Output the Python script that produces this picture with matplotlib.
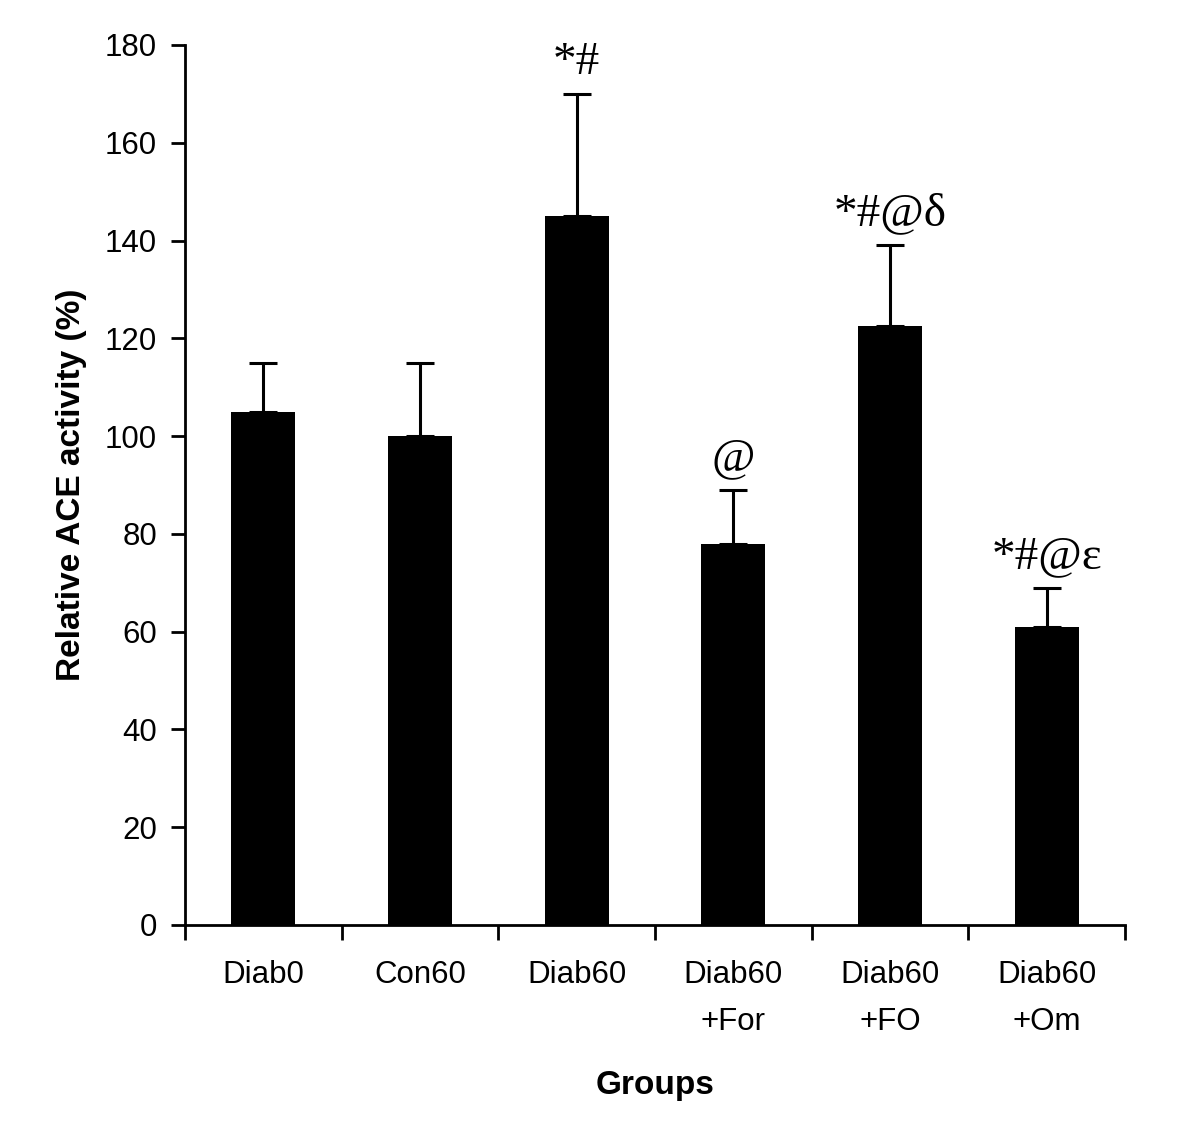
import matplotlib
matplotlib.use("Agg")
import matplotlib.pyplot as plt
import numpy as np

groups = ["Diab0", "Con60", "Diab60", "Diab60\n+For", "Diab60\n+FO", "Diab60\n+Om"]
values = [105, 100, 145, 78, 122.5, 61]
errors = [10, 15, 25, 11, 16.5, 8]
annotations = ["", "", "*#", "@", "*#@δ", "*#@ε"]

plt.rcParams['font.family'] = ['Liberation Sans', 'DejaVu Sans']

fig = plt.figure(figsize=(12, 11.44), dpi=100)
ax = fig.add_axes([185/1200, 1 - 925/1144, (1125-185)/1200, (925-45)/1144])

x = np.arange(len(groups)) + 0.5
ax.bar(x, values, width=0.41, color='black')
ax.errorbar(x, values, yerr=[np.zeros(len(values)), errors], fmt='none',
            ecolor='black', elinewidth=2.2, capsize=10, capthick=2.2)

for xi, v, e, a in zip(x, values, errors, annotations):
    if a:
        ax.text(xi, v + e + 2.0, a, ha='center', va='bottom', fontsize=34,
                family=['Liberation Serif', 'DejaVu Serif'])

ax.set_xlim(0, 6)
ax.set_ylim(0, 180)
ax.set_yticks(np.arange(0, 181, 20))
ax.set_xticks(np.arange(0, 7))
ax.set_xticklabels([])
ax.set_xticks(x, minor=True)
ax.set_xticklabels(groups, minor=True, fontsize=22.5, linespacing=1.75, va='top')
ax.tick_params(axis='x', which='minor', length=0, pad=25)
ax.tick_params(axis='x', which='major', length=11, width=2, direction='out')
ax.tick_params(axis='y', length=10, width=2, direction='out', labelsize=22.5, pad=10)

for s in ['top', 'right']:
    ax.spines[s].set_visible(False)
for s in ['left', 'bottom']:
    ax.spines[s].set_linewidth(2)

ax.set_ylabel("Relative ACE activity (%)", fontsize=24, fontweight='bold', labelpad=13)
ax.set_xlabel("Groups", fontsize=24, fontweight='bold', labelpad=24)

fig.savefig("out.png", dpi=100)
